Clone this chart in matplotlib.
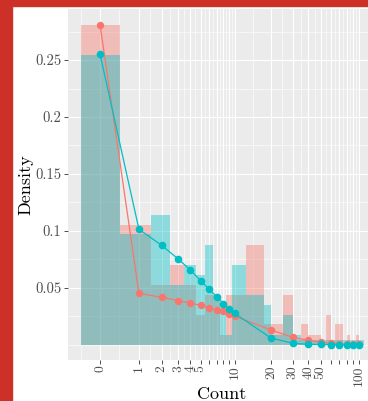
import numpy as np
import matplotlib
matplotlib.use("Agg")
import matplotlib.pyplot as plt
from matplotlib.patches import Rectangle
from matplotlib.ticker import FixedLocator, NullFormatter

plt.rcParams['font.family'] = 'cmr10'
plt.rcParams['axes.formatter.use_mathtext'] = True

# data
pt_counts = [0, 1, 2, 3, 4, 5, 6, 7, 8, 9, 10, 20, 30, 40, 50, 60, 70, 80, 90, 100]
red_pts = [0.281, 0.0453, 0.0418, 0.039, 0.0368, 0.0348, 0.0325, 0.0304, 0.0295, 0.0272,
           0.0252, 0.0132, 0.0067, 0.0041, 0.0024, 0.0015, 0.0011, 0.0008, 0.0006, 0.0004]
cyan_pts = [0.255, 0.1015, 0.0874, 0.0757, 0.0658, 0.0564, 0.0488, 0.0424, 0.0363, 0.0313,
            0.0278, 0.0061, 0.0015, 0.0005, 0.0004, 0.0003, 0.0002, 0.0002, 0.0001, 0.0001]

bin_edges = [-0.29, 0.42, 1.46, 2.47, 3.5, 4.5, 5.5, 6.5, 7.5, 8.5, 9.5, 12.5, 17.5, 20,
             25, 30, 35, 40, 45, 50, 55, 60, 65, 70, 75, 80, 85, 90, 95, 100, 105, 110]
red_hist = [0.281, 0.105, 0.053, 0.070, 0.053, 0.026, 0.044, 0.044, 0.009, 0.044, 0.044,
            0.088, 0.018, 0.018, 0.044, 0.004, 0.018, 0.009, 0.009, 0.0, 0.026, 0.0,
            0.018, 0.018, 0.0, 0.009, 0.0, 0.0, 0.009, 0.0, 0.0]
cyan_hist = [0.254, 0.097, 0.114, 0.053, 0.070, 0.061, 0.088, 0.044, 0.035, 0.009, 0.070,
             0.044, 0.035, 0.009, 0.026, 0.009, 0.0044, 0.0044, 0.0044, 0.0044, 0.0044,
             0.0044, 0.0044, 0.0044, 0.0044, 0.0044, 0.0044, 0.0044, 0.0044, 0.0044, 0.0044]

x_ticks = [0, 1, 2, 3, 4, 5, 6, 7, 8, 9, 10, 20, 30, 40, 50, 60, 70, 80, 90, 100]
x_labels = ['0', '1', '2', '3', '4', '5', '', '', '', '', '10', '20', '30', '40', '50',
            '', '', '', '', '100']
y_ticks = [0.05, 0.1, 0.15, 0.2, 0.25]
y_labels = ['0.05', '0.1', '0.15', '0.2', '0.25']

RED = '#F8766D'
CYAN = '#00BFC4'


def fwd(x):
    return np.log10(np.maximum(np.asarray(x, dtype=float) + 1, 1e-9))


def inv(t):
    return 10 ** np.asarray(t, dtype=float) - 1


W, H = 368, 401
fig = plt.figure(figsize=(W / 100, H / 100), dpi=100)
# panel: x 68..376 px (runs past right edge), y 8.5..360 px
ax = fig.add_axes([68 / W, (H - 360) / H, (376 - 68) / W, (360 - 8.5) / H])
ax.set_facecolor('#EBEBEB')
for s in ax.spines.values():
    s.set_visible(False)

ax.set_xscale('function', functions=(fwd, inv))
ax.set_xlim(inv(-0.248), inv(2.136))
ax.set_ylim(-0.0132, 0.2952)

edges = np.array(bin_edges)
ax.bar(edges[:-1], red_hist, width=np.diff(edges), align='edge', color=RED,
       alpha=0.4, linewidth=0, zorder=2)
ax.bar(edges[:-1], cyan_hist, width=np.diff(edges), align='edge', color=CYAN,
       alpha=0.4, linewidth=0, zorder=3)

ax.plot(pt_counts, red_pts, '-o', color=RED, lw=0.9, ms=4.3, zorder=4)
ax.plot(pt_counts, cyan_pts, '-o', color=CYAN, lw=0.9, ms=4.5, zorder=5)

# ticks and grid (ggplot-like)
ax.xaxis.set_major_locator(FixedLocator(x_ticks))
ax.set_xticklabels(x_labels, rotation=90)
t = fwd(x_ticks)
tmin = np.concatenate([[t[0] - (t[1] - t[0]) / 2], (t[:-1] + t[1:]) / 2])
ax.xaxis.set_minor_locator(FixedLocator(inv(tmin)))
ax.xaxis.set_minor_formatter(NullFormatter())

ax.set_yticks(y_ticks)
ax.set_yticklabels(y_labels)
ax.yaxis.set_minor_locator(FixedLocator([0.0, 0.025, 0.075, 0.125, 0.175, 0.225, 0.275]))

ax.set_axisbelow(True)
ax.grid(which='major', color='white', lw=0.8)
ax.grid(which='minor', color='white', lw=0.4)
ax.tick_params(which='major', length=2.75, width=0.6, color='#333333',
               labelcolor='#4D4D4D', labelsize=10.5, pad=2.2)
ax.tick_params(axis='x', which='major', pad=1.2, labelsize=9.8)
ax.tick_params(which='minor', length=0)

ax.set_xlabel('Count', fontsize=13)
ax.xaxis.set_label_coords(0.5, -0.075)
ax.set_ylabel('Density', fontsize=13)
ax.yaxis.set_label_coords(-0.113, 0.5)

# red frame at left and top
fig.patches.append(Rectangle((0, 0), 12 / W, 1, transform=fig.transFigure,
                             color='#CD3026', zorder=10))
fig.patches.append(Rectangle((0, 1 - 6 / H), 1, 6 / H, transform=fig.transFigure,
                             color='#CD3026', zorder=10))

fig.savefig('out.png', dpi=100)
